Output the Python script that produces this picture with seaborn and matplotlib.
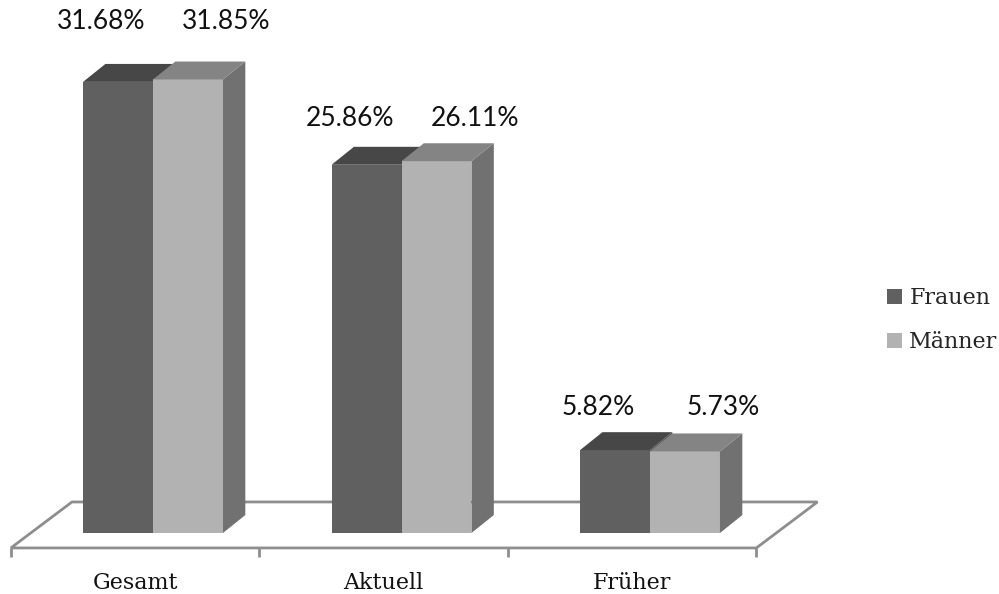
import matplotlib
matplotlib.use("Agg")
import matplotlib.pyplot as plt
from matplotlib.patches import Polygon
import seaborn as sns
import pandas as pd

# Anteile in Prozent
kategorien = ["Gesamt", "Aktuell", "Früher"]
gruppen = ["Frauen", "Männer"]
frauen = [31.68, 25.86, 5.82]
maenner = [31.85, 26.11, 5.73]

df = pd.DataFrame({
    "Kategorie": kategorien * 2,
    "Geschlecht": [gruppen[0]] * len(frauen) + [gruppen[1]] * len(maenner),
    "Wert": frauen + maenner,
})

# face shades for the pseudo-3D boxes
front = {"Frauen": "#606060", "Männer": "#b2b2b2"}
top = {"Frauen": "#474747", "Männer": "#848484"}
side = {"Frauen": "#565656", "Männer": "#717171"}
floor_color = "#8e8e8e"

sns.set_theme(style="white")
plt.rcParams["font.family"] = ["DejaVu Serif"]

fig = plt.figure(figsize=(9.99, 5.94), dpi=100)
ax = fig.add_axes([0, 0, 1, 1])

sns.barplot(data=df, x="Kategorie", y="Wert", hue="Geschlecht",
            order=kategorien, hue_order=gruppen, palette=front,
            width=0.563, saturation=1, errorbar=None, linewidth=0,
            ax=ax)

# depth of each box (x in category units, y in percent)
dx, dy = 0.09, 1.26

# one label row per category, a little above the taller box of the pair
row_top = [max(f, m) for f, m in zip(frauen, maenner)]

for level, cont in enumerate(ax.containers):
    name = gruppen[level]
    base_z = 3 + level
    for k, bar in enumerate(cont):
        bar.set_zorder(base_z)
        x0 = bar.get_x()
        x1 = x0 + bar.get_width()
        h = bar.get_height()
        ax.add_patch(Polygon([(x0, h), (x1, h), (x1 + dx, h + dy), (x0 + dx, h + dy)],
                             closed=True, facecolor=top[name], edgecolor="none",
                             zorder=base_z + 0.5))
        ax.add_patch(Polygon([(x1, 0), (x1, h), (x1 + dx, h + dy), (x1 + dx, dy)],
                             closed=True, facecolor=side[name], edgecolor="none",
                             zorder=base_z + 0.4))

        # value label above the box
        cx = x0 + bar.get_width() / 2
        lx = cx - 0.068 if level == 0 else cx + 0.153
        ly = max(row_top[k] + 3.0, 1.2 * row_top[k] - 2.3)
        ax.text(lx, ly, f"{h:.2f}%", ha="center", va="center",
                family="Lato", fontsize=19, color="#111111", zorder=10)

# floor plate
n = len(kategorien)
fl_front_x, fl_front_y = -0.572, -1.05
fl_back_x, fl_back_y = -0.326, 2.18
ax.add_patch(Polygon([(fl_front_x, fl_front_y), (fl_front_x + n, fl_front_y),
                      (fl_back_x + n, fl_back_y), (fl_back_x, fl_back_y)],
                     closed=True, facecolor="white", edgecolor=floor_color,
                     linewidth=2, zorder=1))

# category ticks and labels along the front edge
for k in range(n + 1):
    ax.plot([fl_front_x + k, fl_front_x + k], [fl_front_y, -1.68],
            color=floor_color, linewidth=2, zorder=1, solid_capstyle="butt")
for k, name in enumerate(kategorien):
    ax.text(k - 0.072, -3.93, name, ha="center", va="baseline",
            fontsize=16, color="#111111")

ax.set_xlim(-0.6157, 3.4044)
ax.set_ylim(-4.284, 37.43)
ax.axis("off")

sns.move_legend(ax, "center left", bbox_to_anchor=(0.868, 0.461), title=None,
                frameon=False, prop={"family": "DejaVu Serif", "size": 16},
                handlelength=0.68, handleheight=0.68, handletextpad=0.32,
                labelspacing=1.0)

fig.savefig("out.png", dpi=100, facecolor="white")
